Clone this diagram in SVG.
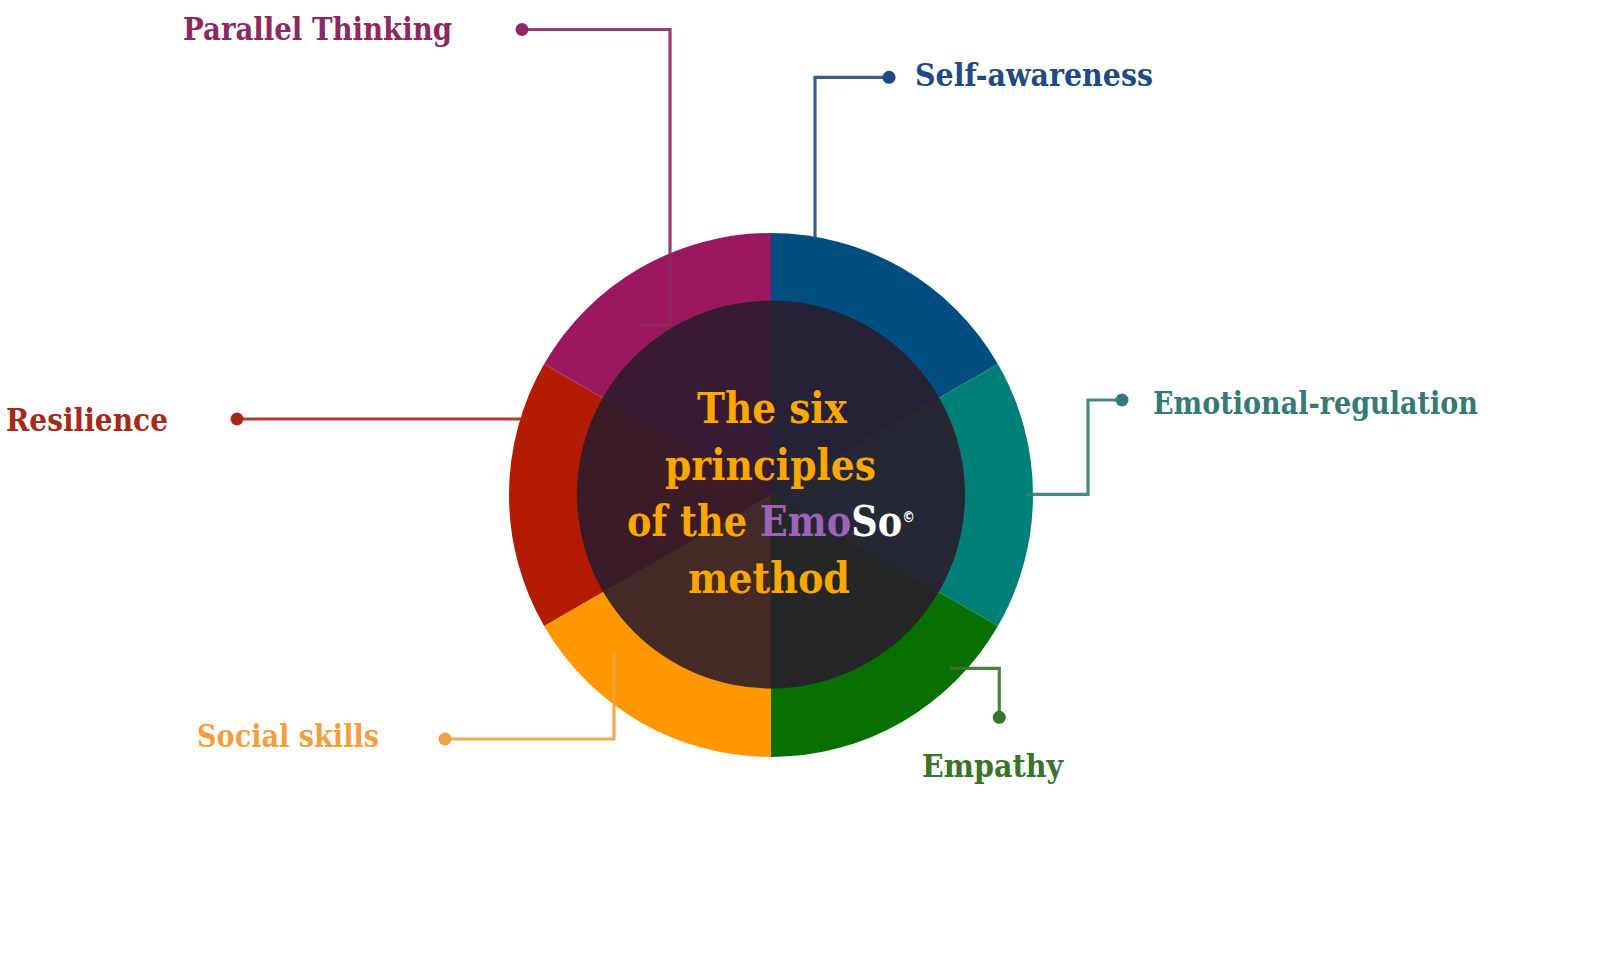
<svg xmlns="http://www.w3.org/2000/svg" width="1600" height="963" viewBox="0 0 1600 963">
  <style>
    .lbl { font-family: "DejaVu Serif", "Liberation Serif", serif; font-weight: bold; font-size: 32px; }
    .ctr { font-family: "DejaVu Serif", "Liberation Serif", serif; font-weight: bold; font-size: 43px; fill: #fba700; }
    .conn { fill: none; stroke-width: 3.2; stroke-linejoin: miter; }
  </style>
  <rect width="1600" height="963" fill="#ffffff"/>

  <g id="ring">
    <path id="seg-self-awareness" d="M771,495 L771,233 A262,262 0 0 1 997.9,364 Z" fill="#004d80"/>
    <path id="seg-emotional-regulation" d="M771,495 L997.9,364 A262,262 0 0 1 997.9,626 Z" fill="#007f76"/>
    <path id="seg-empathy" d="M771,495 L997.9,626 A262,262 0 0 1 771,757 Z" fill="#077000"/>
    <path id="seg-social-skills" d="M771,495 L771,757 A262,262 0 0 1 544.1,626 Z" fill="#ff9700"/>
    <path id="seg-resilience" d="M771,495 L544.1,626 A262,262 0 0 1 544.1,364 Z" fill="#b31b00"/>
    <path id="seg-parallel-thinking" d="M771,495 L544.1,364 A262,262 0 0 1 771,233 Z" fill="#9b1860"/>
  </g>

  <g id="connectors">
    <path class="conn" d="M522,29.5 H670 V325 H640" stroke="#8e2861" stroke-opacity="0.9"/>
    <circle cx="522" cy="29.5" r="6.5" fill="#8e2861"/>
    <path class="conn" d="M889,77.3 H815 V242" stroke="#1f4b82" stroke-opacity="0.9"/>
    <circle cx="889" cy="77.3" r="6.5" fill="#1f4b82"/>
    <path class="conn" d="M1122,400 H1088 V494.3 H1026" stroke="#357a76" stroke-opacity="0.9"/>
    <circle cx="1122" cy="400" r="6.5" fill="#357a76"/>
    <path class="conn" d="M237,419 H527" stroke="#a52a1a" stroke-opacity="0.9"/>
    <circle cx="237" cy="419" r="6.5" fill="#a52a1a"/>
    <path class="conn" d="M445,739 H614 V652" stroke="#f0a040" stroke-opacity="0.9"/>
    <circle cx="445" cy="739" r="6.5" fill="#f0a040"/>
    <path class="conn" d="M950,668.3 H999.3 V717" stroke="#3a7428" stroke-opacity="0.9"/>
    <circle cx="999.3" cy="717.3" r="6.5" fill="#3a7428"/>
  </g>

  <g id="center">
    <circle cx="771" cy="494.5" r="194" fill="#2a1b2c" fill-opacity="0.88"/>
    <text class="ctr" x="697" y="423.3" textLength="150" lengthAdjust="spacingAndGlyphs">The six</text>
    <text class="ctr" x="665" y="480" textLength="211" lengthAdjust="spacingAndGlyphs">principles</text>
    <text class="ctr" x="627" y="535.7" textLength="288" lengthAdjust="spacingAndGlyphs">of the <tspan fill="#9b64b8">Emo</tspan><tspan fill="#ffffff">So</tspan><tspan fill="#ffffff" font-family="DejaVu Sans, sans-serif" font-size="15" dy="-14">©</tspan></text>
    <text class="ctr" x="688" y="592.7" textLength="162" lengthAdjust="spacingAndGlyphs">method</text>
  </g>

  <g id="label-parallel-thinking">
    <text class="lbl" x="183" y="40" textLength="269" lengthAdjust="spacingAndGlyphs" fill="#8e2861">Parallel Thinking</text>
  </g>
  <g id="label-self-awareness">
    <text class="lbl" x="915" y="85.7" textLength="238" lengthAdjust="spacingAndGlyphs" fill="#1f4b82">Self-awareness</text>
  </g>
  <g id="label-emotional-regulation">
    <text class="lbl" x="1153" y="414.3" textLength="325" lengthAdjust="spacingAndGlyphs" fill="#357a76">Emotional-regulation</text>
  </g>
  <g id="label-resilience">
    <text class="lbl" x="6" y="431" textLength="162" lengthAdjust="spacingAndGlyphs" fill="#a52a1a">Resilience</text>
  </g>
  <g id="label-social-skills">
    <text class="lbl" x="197" y="747.3" textLength="182" lengthAdjust="spacingAndGlyphs" fill="#f0a040">Social skills</text>
  </g>
  <g id="label-empathy">
    <text class="lbl" x="922" y="776.7" textLength="141" lengthAdjust="spacingAndGlyphs" fill="#3a7428">Empathy</text>
  </g>
</svg>
